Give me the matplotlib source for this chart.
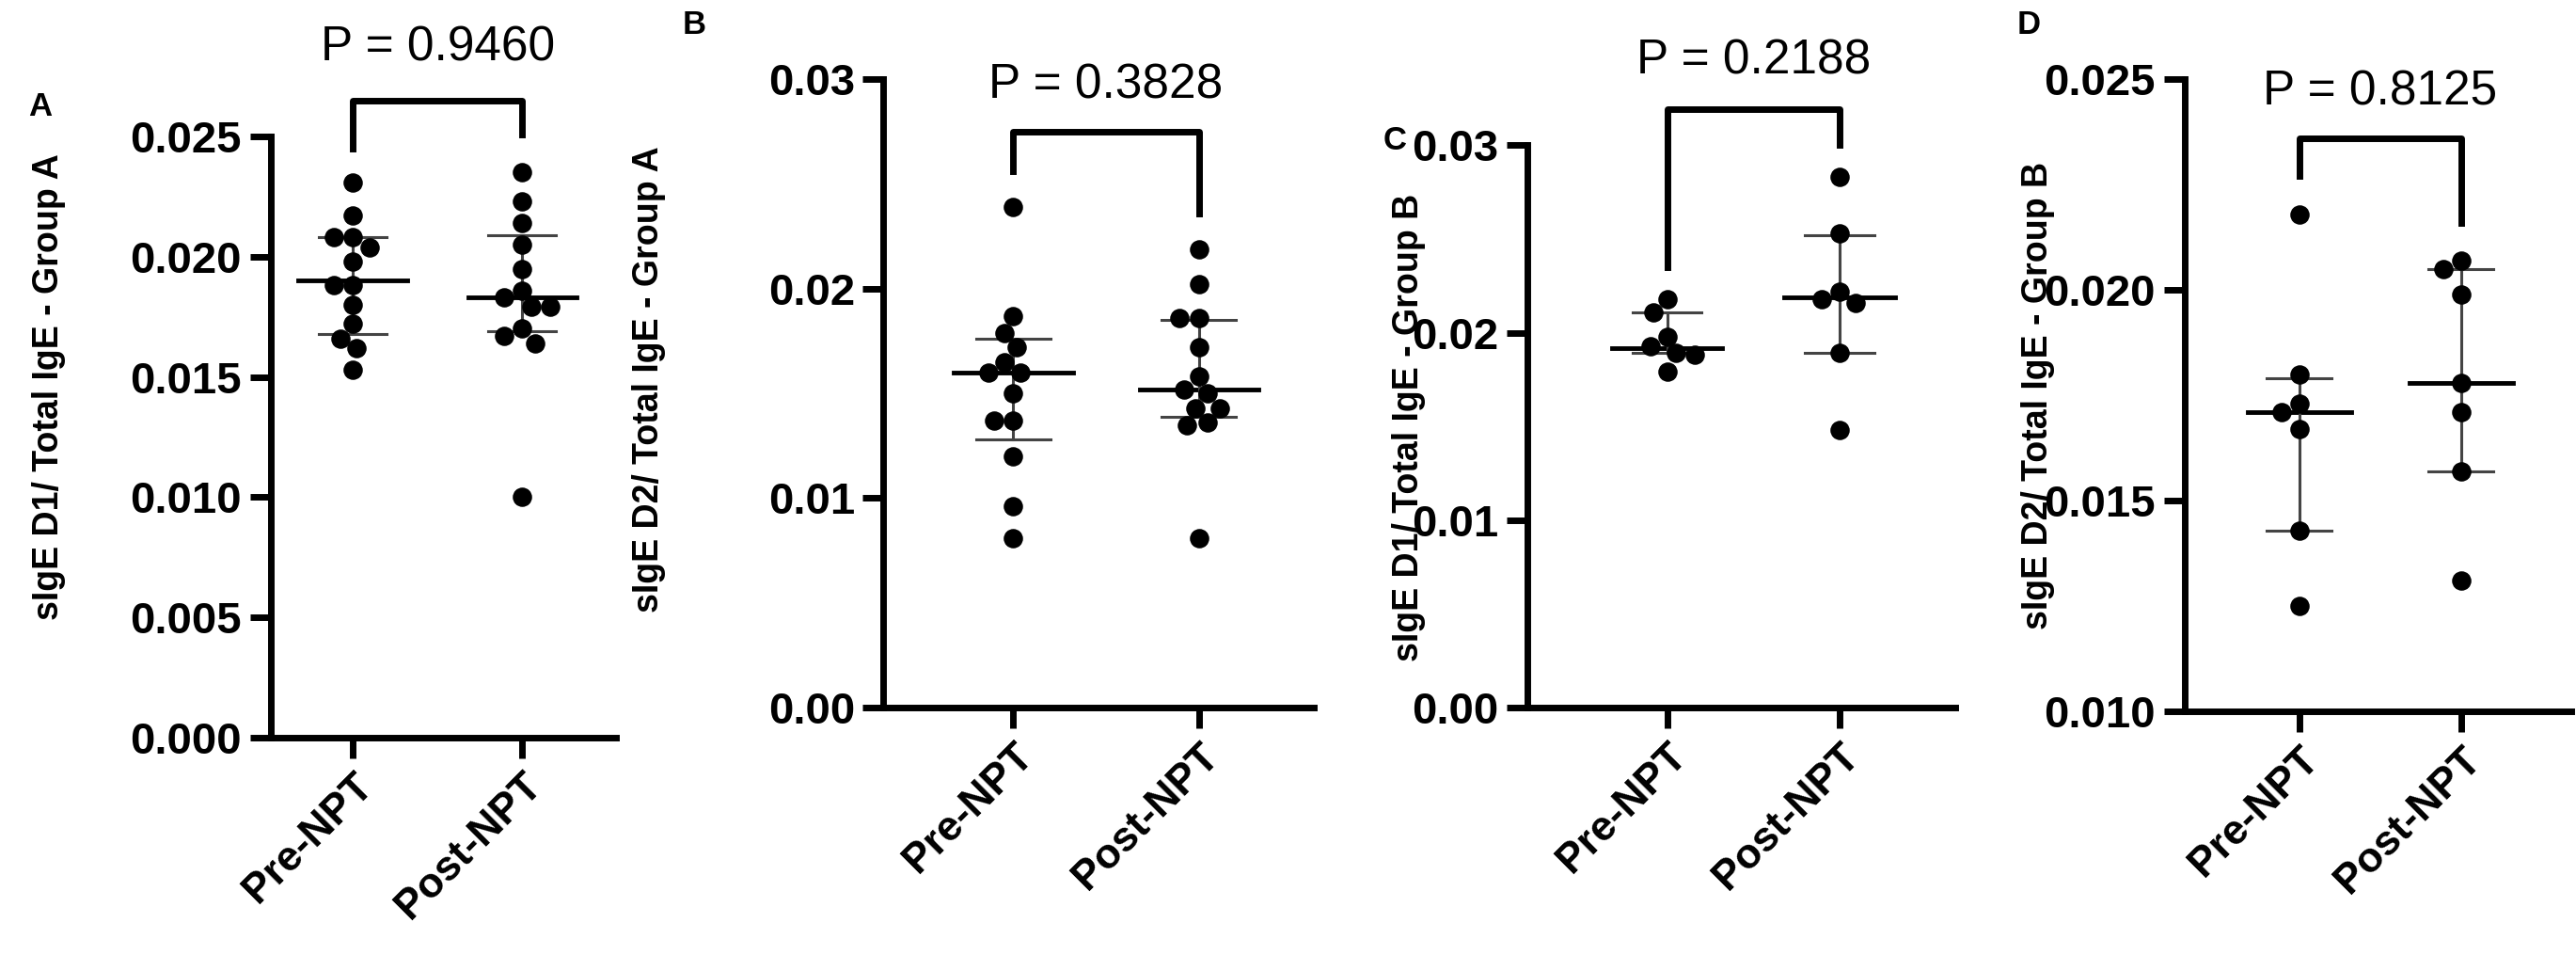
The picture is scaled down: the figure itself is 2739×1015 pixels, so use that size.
import matplotlib
matplotlib.use("Agg")
import matplotlib.pyplot as plt
import numpy as np

plt.rcParams['font.family'] = ['Liberation Sans', 'DejaVu Sans']

groups = ["Pre-NPT", "Post-NPT"]

a_pre = [0.0231, 0.0217, 0.0208, 0.0208, 0.0204, 0.0198, 0.0188, 0.0188, 0.0180, 0.0172, 0.0166, 0.0162, 0.0153]
a_post = [0.0235, 0.0223, 0.0214, 0.0205, 0.0195, 0.0186, 0.0183, 0.0179, 0.0179, 0.0170, 0.0167, 0.0164, 0.0100]
b_pre = [0.0239, 0.0187, 0.0179, 0.0172, 0.0165, 0.0160, 0.0160, 0.0150, 0.0137, 0.0137, 0.0120, 0.0096, 0.0081]
b_post = [0.0219, 0.0202, 0.0186, 0.0186, 0.0172, 0.0158, 0.0152, 0.0150, 0.0143, 0.0143, 0.0136, 0.0135, 0.0081]
c_pre = [0.0218, 0.0211, 0.0198, 0.0193, 0.0189, 0.0188, 0.0179]
c_post = [0.0283, 0.0253, 0.0222, 0.0218, 0.0216, 0.0189, 0.0148]
d_pre = [0.0218, 0.0180, 0.0173, 0.0171, 0.0167, 0.0143, 0.0125]
d_post = [0.0207, 0.0205, 0.0199, 0.0178, 0.0171, 0.0157, 0.0131]

# median, upper, lower (as drawn)
a_stats = [(0.0190, 0.0208, 0.0168), (0.0183, 0.0209, 0.0169)]
b_stats = [(0.0160, 0.0176, 0.0128), (0.0152, 0.0185, 0.0139)]
c_stats = [(0.0192, 0.0211, 0.0189), (0.0219, 0.0252, 0.0189)]
d_stats = [(0.0171, 0.0179, 0.0143), (0.0178, 0.0205, 0.0157)]

p_values = ["P = 0.9460", "P = 0.3828", "P = 0.2188", "P = 0.8125"]
ylabels = ["sIgE D1/ Total IgE - Group A", "sIgE D2/ Total IgE - Group A",
           "sIgE D1/ Total IgE - Group B", "sIgE D2/ Total IgE - Group B"]
letters = ["A", "B", "C", "D"]

panels = [
    dict(data=(a_pre, a_post), stats=a_stats, rect=[0.105, 0.228, 0.134, 0.629], ylim=(0, 0.025),
         ticks=[0, 0.005, 0.010, 0.015, 0.020, 0.025], fmt="%.3f", xlim=(-0.485, 1.55),
         br=(0.0265, 0.0245, 0.0251, 0.0287), letter=(0.011, 0.888), ylab=(0.019, 0.595)),
    dict(data=(b_pre, b_post), stats=b_stats, rect=[0.343, 0.259, 0.167, 0.658], ylim=(0, 0.03),
         ticks=[0, 0.01, 0.02, 0.03], fmt="%.2f", xlim=(-0.70, 1.62),
         br=(0.0275, 0.0256, 0.0236, 0.0297), letter=(0.265, 0.974), ylab=(0.252, 0.603)),
    dict(data=(c_pre, c_post), stats=c_stats, rect=[0.593, 0.259, 0.166, 0.589], ylim=(0, 0.03),
         ticks=[0, 0.01, 0.02, 0.03], fmt="%.2f", xlim=(-0.81, 1.67),
         br=(0.0319, 0.0235, 0.0300, 0.0345), letter=(0.537, 0.853), ylab=(0.547, 0.552)),
    dict(data=(d_pre, d_post), stats=d_stats, rect=[0.848, 0.255, 0.150, 0.662], ylim=(0.010, 0.025),
         ticks=[0.010, 0.015, 0.020, 0.025], fmt="%.3f", xlim=(-0.71, 1.68),
         br=(0.0236, 0.0227, 0.0216, 0.0247), letter=(0.783, 0.974), ylab=(0.791, 0.586)),
]


def swarm(ax, x0, vals, diam):
    # simple beeswarm in pixel space
    trans = ax.transData
    placed = []
    out = []
    for v in sorted(vals, reverse=True):
        px0, py = trans.transform((x0, v))
        cands = [0.0]
        for (qx, qy) in placed:
            dy = py - qy
            if abs(dy) < diam:
                dx = np.sqrt(diam ** 2 - dy ** 2) + 0.5
                cands += [qx - px0 + dx, qx - px0 - dx]
        cands.sort(key=lambda c: (abs(c), c))
        for c in cands:
            if all((px0 + c - qx) ** 2 + (py - qy) ** 2 >= (diam - 0.5) ** 2 for qx, qy in placed):
                break
        placed.append((px0 + c, py))
        out.append(trans.inverted().transform((px0 + c, py)))
    return np.array(out)


fig = plt.figure(figsize=(27.39, 10.15), dpi=100)
for i, p in enumerate(panels):
    ax = fig.add_axes(p["rect"])
    ax.set_xlim(*p["xlim"])
    ax.set_ylim(*p["ylim"])
    for s in ["top", "right"]:
        ax.spines[s].set_visible(False)
    for s in ["left", "bottom"]:
        ax.spines[s].set_linewidth(5)
    ax.set_yticks(p["ticks"])
    ax.set_yticklabels([p["fmt"] % t for t in p["ticks"]], fontsize=34, fontweight="bold")
    ax.set_xticks([0, 1])
    ax.set_xticklabels(groups, fontsize=32, fontweight="bold", rotation=45, ha="right",
                       rotation_mode="anchor")
    ax.tick_params(axis="both", width=5, length=16, pad=6)
    fig.canvas.draw()
    for g in range(2):
        pts = swarm(ax, g, p["data"][g], 20)
        ax.scatter(pts[:, 0], pts[:, 1], s=190, color="black", zorder=3, clip_on=False)
        med, up, lo = p["stats"][g]
        ax.plot([g - 0.32, g + 0.32], [med, med], color="black", lw=3.5, zorder=2)
        ax.plot([g, g], [lo, up], color="#444444", lw=2.2, zorder=2)
        for y in (lo, up):
            ax.plot([g - 0.2, g + 0.2], [y, y], color="#444444", lw=2.2, zorder=2)
    top, l0, l1, ty = p["br"]
    ax.plot([0, 0, 1, 1], [l0, top, top, l1], color="black", lw=5, clip_on=False)
    ax.text(0.5, ty, p_values[i], ha="center", va="center", fontsize=37, clip_on=False)
    fig.text(p["letter"][0], p["letter"][1], letters[i], fontsize=25, fontweight="bold",
             ha="left", va="center")
    fig.text(p["ylab"][0], p["ylab"][1], ylabels[i], rotation=90, fontsize=27,
             fontweight="bold", ha="center", va="center",
             family=["Liberation Sans Narrow", "Liberation Sans", "DejaVu Sans"])

fig.savefig("out.png", dpi=100)
